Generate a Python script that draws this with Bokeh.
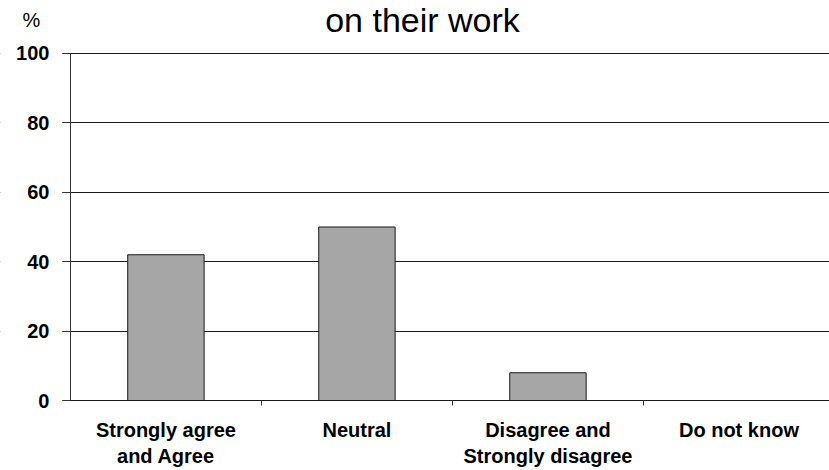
from bokeh.plotting import figure
from bokeh.models import Range1d, FixedTicker, Label, BoxAnnotation
from bokeh.embed import file_html
from bokeh.resources import INLINE

# Survey responses (% of respondents)
categories = ["Strongly agree\nand Agree", "Neutral", "Disagree and\nStrongly disagree", "Do not know"]
percent = [42, 50, 8, 0]
y_ticks = [0, 20, 40, 60, 80, 100]

FONT = "Liberation Sans"

positions = [i + 0.5 for i in range(len(categories))]

# The frame fills the whole canvas; both axes are pinned at 0 so the
# margins on the left and below hold their labels.
p = figure(width=829, height=470, output_backend="svg", toolbar_location=None,
           title_location=None,
           x_range=Range1d(-0.366, 3.974), y_range=Range1d(-20.17, 115.27),
           min_border_left=0, min_border_right=0, min_border_top=0, min_border_bottom=0)
p.outline_line_color = None
p.background_fill_color = "white"
p.border_fill_color = "white"

p.vbar(x=positions, top=percent, width=0.40, bottom=0,
       fill_color="#a6a6a6", line_color="#1a1a1a", line_width=1)

# value axis
p.yaxis.fixed_location = 0
p.yaxis.bounds = (0, 100)
p.yaxis.ticker = FixedTicker(ticks=y_ticks)
p.yaxis.axis_line_color = "#333333"
p.yaxis.major_tick_line_color = "#333333"
p.yaxis.major_tick_out = 8
p.yaxis.major_tick_in = 0
p.yaxis.minor_tick_line_color = None
p.yaxis.major_label_standoff = 13
p.yaxis.major_label_text_font = FONT
p.yaxis.major_label_text_font_style = "bold"
p.yaxis.major_label_text_font_size = "20px"
p.yaxis.major_label_text_color = "black"

# category axis: labels centred, ticks between categories
p.xaxis.fixed_location = 0
p.xaxis.bounds = (-0.042, 3.974)
p.xaxis.ticker = FixedTicker(ticks=positions, minor_ticks=[1, 2, 3])
p.xaxis.major_label_overrides = {pos: lab for pos, lab in zip(positions, categories)}
p.xaxis.axis_line_color = "#1a1a1a"
p.xaxis.major_tick_line_color = None
p.xaxis.minor_tick_line_color = "#333333"
p.xaxis.minor_tick_out = 5
p.xaxis.minor_tick_in = 0
p.xaxis.major_tick_out = 0
p.xaxis.major_label_standoff = 13
p.xaxis.major_label_text_font = FONT
p.xaxis.major_label_text_font_style = "bold"
p.xaxis.major_label_text_font_size = "20px"
p.xaxis.major_label_text_color = "black"

p.xgrid.grid_line_color = None
p.ygrid.ticker = FixedTicker(ticks=y_ticks[1:])
p.ygrid.grid_line_color = "#1a1a1a"
p.ygrid.grid_line_width = 1

# the grid lines stop just left of the value axis, where the ticks end
p.add_layout(BoxAnnotation(right=-0.042, fill_color="white", fill_alpha=1.0,
                           line_alpha=0, level="underlay"))

# chart title and unit marker
p.add_layout(Label(x=422, y=451, x_units="screen", y_units="screen",
                   text="on their work", text_font=FONT, text_font_size="34px",
                   text_align="center", text_baseline="middle", text_color="black"))
p.add_layout(Label(x=31, y=451, x_units="screen", y_units="screen",
                   text="%", text_font=FONT, text_font_size="20px",
                   text_align="center", text_baseline="middle", text_color="black"))

open("out.html", "w").write(file_html(p, INLINE))
